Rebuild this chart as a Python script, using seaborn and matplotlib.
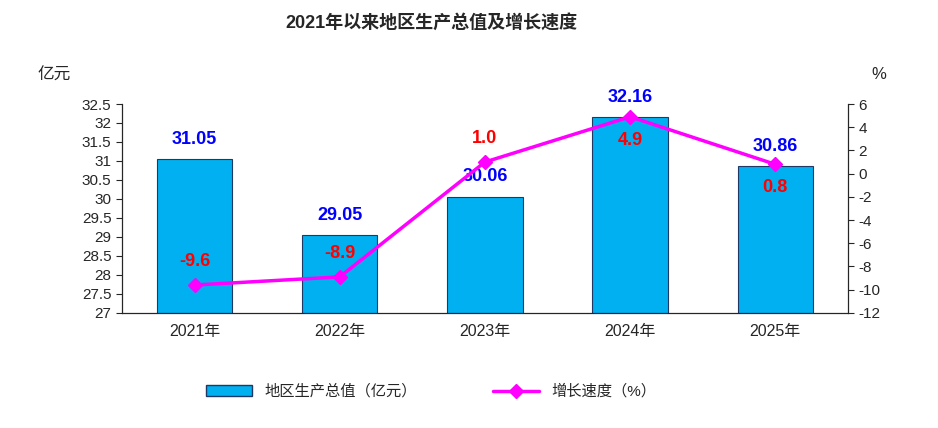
import matplotlib
matplotlib.use("Agg")
import matplotlib.pyplot as plt
import seaborn as sns
import pandas as pd

years = ["2021年", "2022年", "2023年", "2024年", "2025年"]
gdp = [31.05, 29.05, 30.06, 32.16, 30.86]
growth = [-9.6, -8.9, 1.0, 4.9, 0.8]
growth_labels = ["-9.6", "-8.9", "1.0", "4.9", "0.8"]

sns.set_style("white")
plt.rcParams['font.family'] = ['Liberation Sans', 'Noto Sans CJK SC', 'DejaVu Sans']
plt.rcParams['axes.unicode_minus'] = False

fig = plt.figure(figsize=(9.38, 4.28), dpi=100)
ax = fig.add_axes([0.130, 0.269, 0.774, 0.488])
df = pd.DataFrame({"year": years, "gdp": gdp})
sns.barplot(data=df, x="year", y="gdp", color="#00B0F0", edgecolor="#1F3864",
            linewidth=0.8, width=0.52, saturation=1, ax=ax, bottom=0)
ax.set_ylim(27, 32.5)
ax.set_yticks([27 + 0.5 * i for i in range(12)])
ax.set_yticklabels([f"{27 + 0.5 * i:g}" for i in range(12)], fontsize=11)
ax.set_xlabel(""); ax.set_ylabel("")
ax.tick_params(axis="x", labelsize=11.5, length=0, pad=8)
ax.tick_params(axis="y", length=4, direction="out", left=True)
ax.spines["top"].set_visible(False)
for s in ["left", "bottom", "right"]:
    ax.spines[s].set_color("black"); ax.spines[s].set_linewidth(0.8)
for i, v in enumerate(gdp):
    ax.text(i, v + 0.3, f"{v:.2f}", ha="center", va="bottom", color="#0000FF",
            fontsize=13, fontweight="bold")

ax2 = ax.twinx()
ax2.plot(range(5), growth, color="#FF00FF", lw=2.5, marker="D", ms=7)
ax2.set_ylim(-12, 6)
ax2.set_yticks(range(-12, 7, 2))
ax2.tick_params(axis="y", labelsize=11, length=4, direction="out", right=True)
ax2.spines["top"].set_visible(False)
offs = [1.3, 1.3, 1.3, -1.3, -1.3]
for i, (v, t) in enumerate(zip(growth, growth_labels)):
    ax2.text(i, v + offs[i], t, ha="center", va="bottom" if offs[i] > 0 else "top",
             color="#FF0000", fontsize=13, fontweight="bold")
ax.set_xlim(-0.5, 4.5)

fig.text(0.46, 0.945, "2021年以来地区生产总值及增长速度", ha="center", va="center",
         fontsize=13, fontweight="bold")
fig.text(0.058, 0.825, "亿元", ha="center", va="center", fontsize=12)
fig.text(0.937, 0.825, "%", ha="center", va="center", fontsize=12)

from matplotlib.patches import Patch
from matplotlib.lines import Line2D
handles = [Patch(facecolor="#00B0F0", edgecolor="#1F3864"),
           Line2D([0], [0], color="#FF00FF", lw=2.5, marker="D", ms=7)]
fig.legend(handles, ["地区生产总值（亿元）", "增长速度（%）"], loc="center",
           bbox_to_anchor=(0.46, 0.085), ncol=2, frameon=False, fontsize=11,
           columnspacing=5, handlelength=3)
fig.savefig("out.png", dpi=100)
